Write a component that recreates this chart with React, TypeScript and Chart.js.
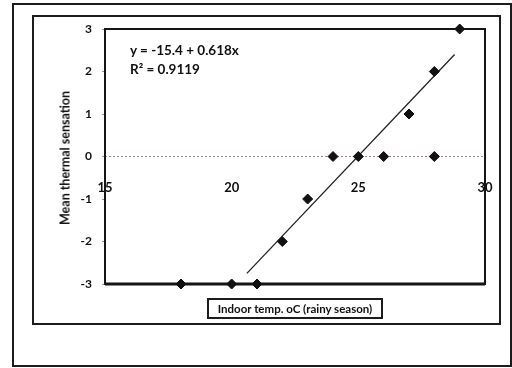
import React, { useEffect, useRef } from "react";
import { Chart, registerables } from "chart.js";
Chart.register(...registerables);

const tempX = [18, 20, 21, 22, 23, 24, 25, 26, 28, 27, 28, 29];
const sensationY = [-3, -3, -3, -2, -1, 0, 0, 0, 0, 1, 2, 3];
const trendX = [20.6, 28.8];
const trendY = [-2.75, 2.4];
const xTickValues = [15, 20, 25, 30];
const yTickValues = [-3, -2, -1, 0, 1, 2, 3];
const equationLines = ["y = -15.4 + 0.618x", "R² = 0.9119"];
const xTitle = "Indoor temp. oC (rainy season)";
const yTitle = "Mean thermal sensation";

const FONT = "Lato, 'Open Sans', sans-serif";

const framePlugin = {
  id: "plotFrame",
  beforeDatasetsDraw(chart: any) {
    const { ctx, chartArea, scales } = chart;
    ctx.save();
    // dotted zero axis line
    const y0 = scales.y.getPixelForValue(0);
    ctx.strokeStyle = "rgba(165,100,105,0.85)";
    ctx.lineWidth = 1;
    ctx.setLineDash([2, 2]);
    ctx.beginPath();
    ctx.moveTo(chartArea.left, y0);
    ctx.lineTo(chartArea.right, y0);
    ctx.stroke();
    ctx.setLineDash([]);
    // frame
    ctx.strokeStyle = "#151515";
    ctx.lineWidth = 2;
    ctx.strokeRect(chartArea.left, chartArea.top, chartArea.right - chartArea.left, chartArea.bottom - chartArea.top);
    ctx.beginPath();
    ctx.lineWidth = 3;
    ctx.moveTo(chartArea.left, chartArea.bottom);
    ctx.lineTo(chartArea.right, chartArea.bottom);
    ctx.stroke();
    ctx.restore();
  },
};

export default function App() {
  const ref = useRef<HTMLCanvasElement>(null);
  useEffect(() => {
    if (!ref.current) return;
    const chart = new Chart(ref.current, {
      type: "scatter",
      data: {
        datasets: [
          {
            label: "Observed",
            data: tempX.map((x, i) => ({ x, y: sensationY[i] })),
            pointStyle: "rectRot",
            pointRadius: 5,
            backgroundColor: "#111",
            borderColor: "#111",
            borderWidth: 1,
            showLine: false,
            clip: false as any,
          },
          {
            label: "Linear fit",
            type: "line" as any,
            data: trendX.map((x, i) => ({ x, y: trendY[i] })),
            borderColor: "#222",
            borderWidth: 1.3,
            pointRadius: 0,
            showLine: true,
            fill: false,
          },
        ],
      },
      options: {
        animation: false,
        responsive: false,
        maintainAspectRatio: false,
        layout: { padding: { left: 75, right: 27, top: 29, bottom: 84 } },
        plugins: { legend: { display: false }, tooltip: { enabled: false } },
        scales: {
          x: {
            type: "linear",
            min: 15,
            max: 30,
            position: { y: 0 } as any,
            afterBuildTicks: (s: any) => {
              s.ticks = xTickValues.map((v) => ({ value: v }));
            },
            grid: { display: false },
            border: { display: false },
            ticks: {
              padding: 16,
              color: "#111",
              font: { family: FONT, size: 13, weight: "bold" },
            },
          },
          y: {
            type: "linear",
            min: -3,
            max: 3,
            afterFit: (s: any) => {
              s.width = 30;
            },
            afterBuildTicks: (s: any) => {
              s.ticks = yTickValues.map((v) => ({ value: v }));
            },
            grid: { drawOnChartArea: false, tickLength: 3, color: "#999" },
            border: { display: false },
            ticks: {
              padding: 10,
              color: "#111",
              font: { family: FONT, size: 12, weight: "bold" },
            },
          },
        },
      },
      plugins: [framePlugin],
    });
    return () => chart.destroy();
  }, []);

  return (
    <div style={{ position: "fixed", left: 0, top: 0, width: 512, height: 368, background: "#fff", overflow: "hidden", fontFamily: FONT }}>
      <div style={{ position: "absolute", left: 12, top: 3, width: 500, height: 364, boxSizing: "border-box", border: "2px solid #1c1c1c" }} />
      <div style={{ position: "absolute", left: 32, top: 15, width: 469, height: 310, boxSizing: "border-box", border: "2px solid #1c1c1c" }} />
      <canvas ref={ref} width={512} height={368} style={{ position: "absolute", left: 0, top: 0, width: 512, height: 368 }} />
      <div style={{ position: "absolute", left: 130, top: 41, fontSize: 13.5, fontWeight: 700, color: "#111", lineHeight: "19px", whiteSpace: "nowrap" }}>
        <div>{equationLines[0]}</div>
        <div>{equationLines[1]}</div>
      </div>
      <div
        style={{
          position: "absolute",
          left: 65,
          top: 158,
          transform: "translate(-50%, -50%) rotate(-90deg)",
          fontSize: 12.5,
          fontWeight: 700,
          color: "#111",
          whiteSpace: "nowrap",
        }}
      >
        {yTitle}
      </div>
      <div
        style={{
          position: "absolute",
          left: 207,
          top: 298,
          width: 176,
          height: 21,
          boxSizing: "border-box",
          border: "2px solid #1c1c1c",
          fontSize: 11.5,
          fontWeight: 700,
          color: "#111",
          display: "flex",
          alignItems: "center",
          justifyContent: "center",
          whiteSpace: "nowrap",
        }}
      >
        {xTitle}
      </div>
    </div>
  );
}
